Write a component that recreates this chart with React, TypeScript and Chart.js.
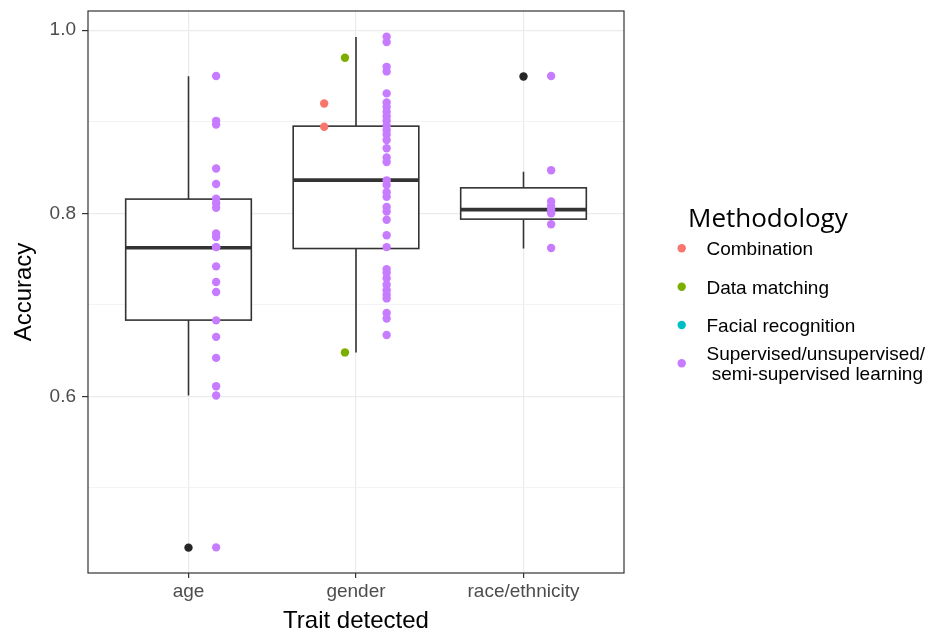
import React, { useEffect, useRef } from "react";
import { Chart, registerables } from "chart.js";

Chart.register(...registerables);

// ---------- data ----------
const categories = ["age", "gender", "race/ethnicity"];
const methodologies = [
  "Combination",
  "Data matching",
  "Facial recognition",
  "Supervised/unsupervised/\n semi-supervised learning",
];
const methodColors = ["#F8766D", "#7CAE00", "#00BFC4", "#C77CFF"];

// box statistics per category (age, gender, race/ethnicity)
const whiskerLow = [0.601, 0.648, 0.7616];
const boxQ1 = [0.6833, 0.7615, 0.7936];
const boxMedian = [0.7623, 0.8362, 0.804];
const boxQ3 = [0.8155, 0.8952, 0.8278];
const whiskerHigh = [0.9498, 0.9927, 0.8453];
const ageOutliers = [0.4347];
const genderOutliers: number[] = [];
const raceOutliers = [0.9495];

// points: Combination
const ageCombination: number[] = [];
const genderCombination = [0.92, 0.8945];
const raceCombination: number[] = [];
// points: Data matching
const ageDataMatching: number[] = [];
const genderDataMatching = [0.97, 0.648];
const raceDataMatching: number[] = [];
// points: Facial recognition
const ageFacial: number[] = [];
const genderFacial: number[] = [];
const raceFacial: number[] = [];
// points: Supervised/unsupervised/semi-supervised learning
const ageSupervised = [
  0.95, 0.901, 0.897, 0.849, 0.832, 0.816, 0.811, 0.806, 0.778, 0.774, 0.763,
  0.763, 0.742, 0.725, 0.714, 0.683, 0.665, 0.642, 0.611, 0.601, 0.435,
];
const genderSupervised = [
  0.993, 0.987, 0.96, 0.955, 0.931, 0.921, 0.916, 0.911, 0.906, 0.901, 0.896,
  0.891, 0.886, 0.88, 0.871, 0.861, 0.856, 0.836, 0.831, 0.823, 0.818, 0.807,
  0.802, 0.793, 0.776, 0.763, 0.739, 0.735, 0.729, 0.722, 0.716, 0.711, 0.707,
  0.691, 0.685, 0.667,
];
const raceSupervised = [0.95, 0.847, 0.813, 0.808, 0.804, 0.8, 0.788, 0.762];

const yMajorTicks = [0.6, 0.8, 1.0];
const yMinorTicks = [0.5, 0.7, 0.9];

// ---------- layout constants ----------
const W = 932;
const H = 633;
const BOX_WIDTH = 0.75;
// horizontal offsets of each methodology's points per category (in category units)
const methodOffsets = [
  [-0.19, -0.19, -0.19],
  [-0.066, -0.066, -0.066],
  [0.066, 0.066, 0.066],
  [0.165, 0.183, 0.165],
];
const TICK_FONT = "'Liberation Sans', Arial, sans-serif";
const GRID = "#ebebeb";
const DARK = "#333333";

const methodSeries = [
  [ageCombination, genderCombination, raceCombination],
  [ageDataMatching, genderDataMatching, raceDataMatching],
  [ageFacial, genderFacial, raceFacial],
  [ageSupervised, genderSupervised, raceSupervised],
];
const outlierSeries = [ageOutliers, genderOutliers, raceOutliers];

const boxPlugin = {
  id: "boxes",
  beforeDatasetsDraw(chart: any) {
    const { ctx, scales } = chart;
    const x = scales.x;
    const y = scales.y;
    ctx.save();
    ctx.strokeStyle = DARK;
    categories.forEach((_, i) => {
      const c = i + 1;
      const cx = x.getPixelForValue(c);
      const l = x.getPixelForValue(c - BOX_WIDTH / 2);
      const r = x.getPixelForValue(c + BOX_WIDTH / 2);
      const yq1 = y.getPixelForValue(boxQ1[i]);
      const yq3 = y.getPixelForValue(boxQ3[i]);
      const ymed = y.getPixelForValue(boxMedian[i]);
      const ylo = y.getPixelForValue(whiskerLow[i]);
      const yhi = y.getPixelForValue(whiskerHigh[i]);
      ctx.lineWidth = 1.6;
      ctx.beginPath();
      ctx.moveTo(cx, yq3);
      ctx.lineTo(cx, yhi);
      ctx.moveTo(cx, yq1);
      ctx.lineTo(cx, ylo);
      ctx.stroke();
      ctx.fillStyle = "#ffffff";
      ctx.fillRect(l, yq3, r - l, yq1 - yq3);
      ctx.strokeRect(l, yq3, r - l, yq1 - yq3);
      ctx.lineWidth = 3.6;
      ctx.beginPath();
      ctx.moveTo(l, ymed);
      ctx.lineTo(r, ymed);
      ctx.stroke();
    });
    ctx.restore();
  },
  afterDatasetsDraw(chart: any) {
    const { ctx, chartArea } = chart;
    ctx.save();
    ctx.strokeStyle = DARK;
    ctx.lineWidth = 1.2;
    ctx.strokeRect(
      chartArea.left,
      chartArea.top,
      chartArea.right - chartArea.left,
      chartArea.bottom - chartArea.top
    );
    ctx.restore();
  },
  afterDraw(chart: any) {
    const { ctx } = chart;
    ctx.save();
    ctx.fillStyle = "#000000";
    ctx.textAlign = "left";
    ctx.textBaseline = "alphabetic";
    ctx.font = "26px 'Open Sans', sans-serif";
    ctx.fillText("Methodology", 688, 227);
    ctx.font = `19px ${TICK_FONT}`;
    const rowY = [248.3, 286.7, 325, 363.3];
    methodologies.forEach((m, i) => {
      const yy = rowY[i];
      ctx.fillStyle = methodColors[i];
      ctx.beginPath();
      ctx.arc(681.7, yy, 4.2, 0, Math.PI * 2);
      ctx.fill();
      ctx.fillStyle = "#000000";
      const lines = m.split("\n");
      if (lines.length === 1) {
        ctx.fillText(lines[0], 706.5, yy + 7);
      } else {
        ctx.fillText(lines[0], 706.5, yy - 3);
        ctx.fillText(lines[1], 706.5, yy + 17);
      }
    });
    ctx.restore();
  },
};

export default function App() {
  const ref = useRef<HTMLCanvasElement | null>(null);

  useEffect(() => {
    document.body.style.margin = "0";
    if (!ref.current) return;

    const datasets: any[] = [];
    // boxplot outliers (black)
    datasets.push({
      label: "outliers",
      data: outlierSeries.flatMap((vals, i) =>
        vals.map((v) => ({ x: i + 1, y: v }))
      ),
      backgroundColor: "#262626",
      borderWidth: 0,
      pointRadius: 4.2,
    });
    methodSeries.forEach((series, m) => {
      datasets.push({
        label: methodologies[m],
        data: series.flatMap((vals, i) =>
          vals.map((v) => ({ x: i + 1 + methodOffsets[m][i], y: v }))
        ),
        backgroundColor: methodColors[m],
        borderWidth: 0,
        pointRadius: 4.2,
      });
    });

    const chart = new Chart(ref.current, {
      type: "scatter",
      data: { datasets },
      plugins: [boxPlugin],
      options: {
        animation: false,
        responsive: false,
        devicePixelRatio: 1,
        events: [],
        layout: { padding: { left: 0, top: 11, right: W - 624, bottom: 0 } },
        plugins: {
          legend: { display: false },
          tooltip: { enabled: false },
        },
        scales: {
          x: {
            type: "linear",
            min: 0.4,
            max: 3.6,
            afterBuildTicks: (scale: any) => {
              scale.ticks = categories.map((_, i) => ({ value: i + 1 }));
            },
            afterFit: (scale: any) => {
              scale.height = H - 573;
              scale.paddingLeft = 0;
              scale.paddingRight = 0;
            },
            ticks: {
              autoSkip: false,
              maxRotation: 0,
              padding: 2,
              color: "#4d4d4d",
              font: { family: TICK_FONT, size: 19 },
              callback: (v: any) => categories[Math.round(Number(v)) - 1] ?? "",
            },
            grid: {
              color: GRID,
              lineWidth: 1.2,
              tickColor: DARK,
              tickLength: 5,
              tickWidth: 1.2,
            },
            border: { display: false },
            title: {
              display: true,
              text: "Trait detected",
              color: "#000000",
              font: { family: TICK_FONT, size: 24, lineHeight: 1 },
              padding: { top: 0, bottom: 0 },
            },
          },
          y: {
            type: "linear",
            min: 0.407,
            max: 1.021,
            afterBuildTicks: (scale: any) => {
              scale.ticks = [...yMinorTicks, ...yMajorTicks]
                .sort((a, b) => a - b)
                .map((v) => ({ value: v }));
            },
            afterFit: (scale: any) => {
              scale.width = 88;
              scale.paddingTop = 0;
              scale.paddingBottom = 0;
            },
            ticks: {
              padding: 6,
              color: "#4d4d4d",
              font: { family: TICK_FONT, size: 19 },
              callback: (v: any) => {
                const n = Number(v);
                return yMajorTicks.some((t) => Math.abs(t - n) < 1e-6)
                  ? n.toFixed(1)
                  : "";
              },
            },
            grid: {
              color: (ctx: any) =>
                yMajorTicks.some((t) => Math.abs(t - ctx.tick.value) < 1e-6)
                  ? GRID
                  : "#f2f2f2",
              lineWidth: (ctx: any) =>
                yMajorTicks.some((t) => Math.abs(t - ctx.tick.value) < 1e-6)
                  ? 1.2
                  : 0.9,
              tickColor: (ctx: any) =>
                yMajorTicks.some((t) => Math.abs(t - ctx.tick.value) < 1e-6)
                  ? DARK
                  : "rgba(0,0,0,0)",
              tickLength: 6,
              tickWidth: 1.2,
            },
            border: { display: false },
            title: {
              display: true,
              text: "Accuracy",
              color: "#000000",
              font: { family: TICK_FONT, size: 24, lineHeight: 1 },
              padding: { top: 12, bottom: 0 },
            },
          },
        },
      } as any,
    });
    return () => chart.destroy();
  }, []);

  return (
    <div style={{ width: W, height: H, background: "#ffffff" }}>
      <canvas ref={ref} width={W} height={H} style={{ display: "block" }} />
    </div>
  );
}
